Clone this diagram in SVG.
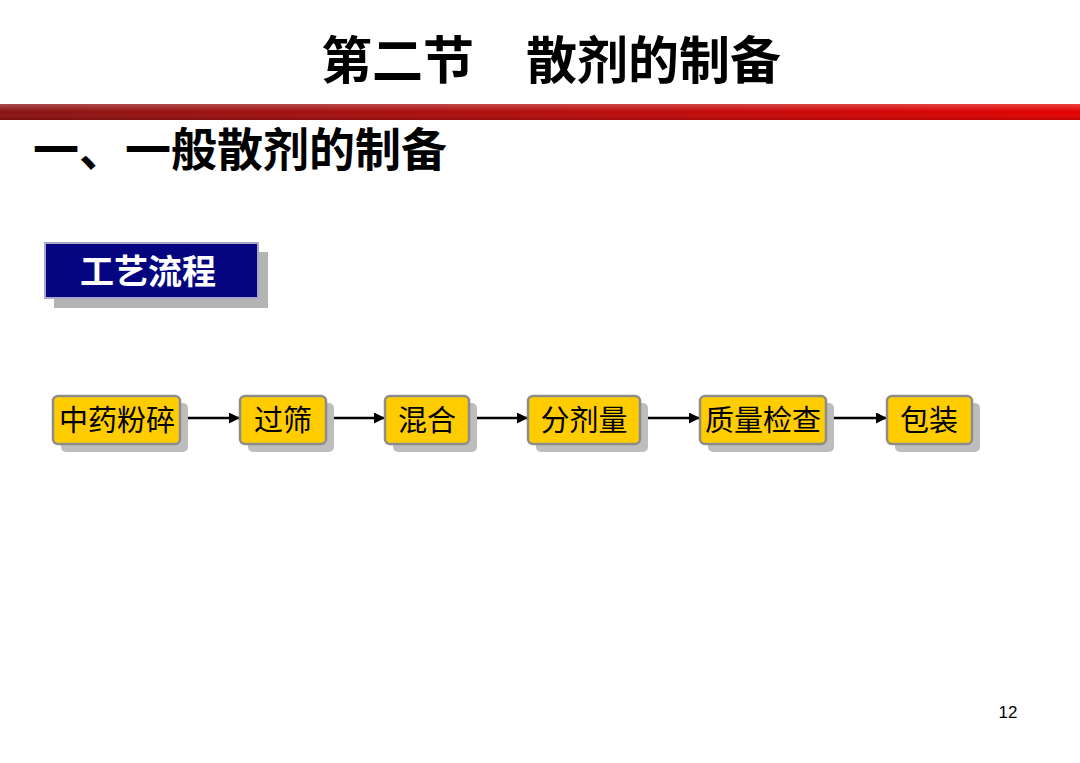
<svg xmlns="http://www.w3.org/2000/svg" width="1080" height="763" viewBox="0 0 1080 763">
<defs>
<linearGradient id="bar" x1="0" y1="0" x2="1" y2="0">
<stop offset="0" stop-color="#8A1212"/>
<stop offset="0.5" stop-color="#B40C0C"/>
<stop offset="1" stop-color="#E40000"/>
</linearGradient>
<linearGradient id="barv" x1="0" y1="0" x2="0" y2="1">
<stop offset="0" stop-color="#FFFFFF" stop-opacity="0.25"/>
<stop offset="0.5" stop-color="#FFFFFF" stop-opacity="0"/>
<stop offset="1" stop-color="#000000" stop-opacity="0.15"/>
</linearGradient>
<marker id="arr" viewBox="0 0 10 10" refX="10" refY="5" markerWidth="4.4" markerHeight="4.4" orient="auto" markerUnits="strokeWidth">
<path d="M0,0 L10,5 L0,10 z" fill="#000"/>
</marker>
<style>
.cjk{font-family:"Noto Sans CJK SC","Liberation Sans",sans-serif;}
.title{font-size:51px;font-weight:bold;fill:#000;}
.sub{font-size:46px;font-weight:bold;fill:#000;}
.shadow{fill:#BDBDBD;}
.box{fill:#FFCC00;stroke:#8C8C8C;stroke-width:2.5;}
.lbl{font-size:29px;fill:#000;text-anchor:middle;}
.conn{stroke:#000;stroke-width:2.5;fill:none;marker-end:url(#arr);}
</style>
</defs>
<rect width="1080" height="763" fill="#FFFFFF"/>
<g id="title">
<text class="cjk title" y="79"><tspan x="321">第二节</tspan><tspan x="526">散剂的制备</tspan></text>
</g>
<g id="bar">
<rect x="0" y="104" width="1080" height="16" fill="url(#bar)"/>
<rect x="0" y="104" width="1080" height="16" fill="url(#barv)"/>
</g>
<g id="subtitle">
<text class="cjk sub" x="33" y="166">一、一般散剂的制备</text>
</g>
<g id="process-label">
<rect x="54" y="252" width="214" height="56" fill="#B4B4B4"/>
<rect x="45" y="243" width="213" height="55" fill="#050580" stroke="#A8A8C8" stroke-width="2"/>
<text class="cjk" x="148" y="284" font-size="34" font-weight="bold" fill="#FFFFFF" text-anchor="middle">工艺流程</text>
</g>
<g id="connectors">
<line class="conn" x1="188" y1="418" x2="240" y2="418"/>
<line class="conn" x1="333" y1="418" x2="385" y2="418"/>
<line class="conn" x1="477" y1="418" x2="528" y2="418"/>
<line class="conn" x1="648" y1="418" x2="700" y2="418"/>
<line class="conn" x1="834" y1="418" x2="887" y2="418"/>
</g>
<g id="n1">
<rect class="shadow" x="61" y="403" width="127" height="49" rx="5"/>
<rect class="box" x="53" y="396" width="127" height="48" rx="5"/>
<text class="cjk lbl" x="117" y="431">中药粉碎</text>
</g>
<g id="n2">
<rect class="shadow" x="248" y="403" width="86" height="49" rx="5"/>
<rect class="box" x="240" y="396" width="86" height="48" rx="5"/>
<text class="cjk lbl" x="283" y="431">过筛</text>
</g>
<g id="n3">
<rect class="shadow" x="393" y="403" width="84" height="49" rx="5"/>
<rect class="box" x="385" y="396" width="84" height="48" rx="5"/>
<text class="cjk lbl" x="427" y="431">混合</text>
</g>
<g id="n4">
<rect class="shadow" x="536" y="403" width="112" height="49" rx="5"/>
<rect class="box" x="528" y="396" width="112" height="48" rx="5"/>
<text class="cjk lbl" x="584" y="431">分剂量</text>
</g>
<g id="n5">
<rect class="shadow" x="708" y="403" width="126" height="49" rx="5"/>
<rect class="box" x="700" y="396" width="126" height="48" rx="5"/>
<text class="cjk lbl" x="763" y="431">质量检查</text>
</g>
<g id="n6">
<rect class="shadow" x="895" y="403" width="85" height="49" rx="5"/>
<rect class="box" x="887" y="396" width="85" height="48" rx="5"/>
<text class="cjk lbl" x="929" y="431">包装</text>
</g>
<g id="page-number">
<text x="1008" y="718" font-family="Liberation Sans, Arial, sans-serif" font-size="17" fill="#000" text-anchor="middle">12</text>
</g>
</svg>
